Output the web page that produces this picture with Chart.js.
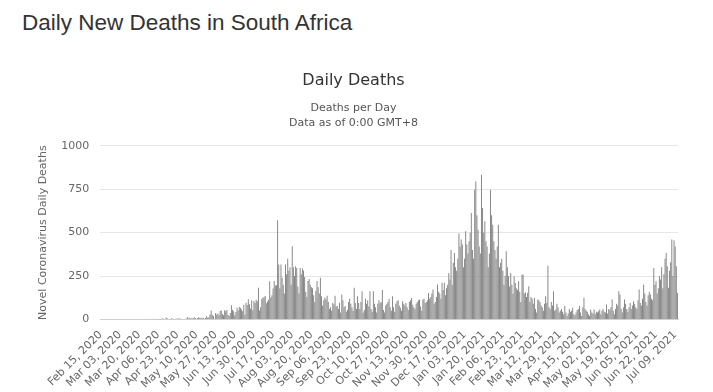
<!DOCTYPE html>
<html>
<head>
<meta charset="utf-8">
<script src="https://cdn.jsdelivr.net/npm/chart.js@4"></script>
<style>
  html, body { margin: 0; padding: 0; background: #fff; }
  body { width: 713px; height: 392px; position: relative; overflow: hidden; }
  h1 {
    position: absolute; left: 22px; top: 10px; margin: 0;
    font: normal 22.5px "Liberation Sans", Arial, sans-serif; color: #333;
  }
  #wrap { position: absolute; left: 0; top: 0; width: 713px; height: 392px; }
</style>
</head>
<body>
<h1>Daily New Deaths in South Africa</h1>
<div id="wrap"><canvas id="deathsChart"></canvas></div>
<script>
// first day of the series, one bar per day after it
const startDate = new Date(2020, 1, 15);

// daily deaths, one array per month
const feb2020 = [0,0,0,0,0,0,0,0,0,0,0,0,0,0,0];
const mar2020 = [0,0,0,0,0,0,0,0,0,0,0,0,0,0,0,0,0,0,0,0,0,0,0,0,0,0,1,0,2,0,2];
const apr2020 = [0,4,2,2,2,0,2,2,0,7,1,0,11,7,0,2,0,8,2,3,4,0,7,4,5,4,3,0,2,0];
const may2020 = [5,13,6,10,6,8,5,13,8,0,8,13,8,10,6,12,0,8,18,10,13,29,52,27,20,0,37,27,35,25,49];
const jun2020 = [52,31,25,53,48,55,27,20,38,82,56,47,25,43,67,52,72,68,58,48,85,27,96,83,117,88,63,111,53,106];
const jul2020 = [95,114,105,182,51,70,118,127,128,135,93,103,114,220,126,140,178,222,195,197,572,316,180,316,240,200,150,316,260,350,280];
const aug2020 = [300,200,421,300,250,306,297,190,150,297,260,293,282,245,160,130,222,233,200,185,180,140,100,165,222,185,150,240,134,80,110];
const sep2020 = [127,115,137,100,60,70,50,96,88,137,75,77,60,96,40,144,110,70,77,45,55,100,120,90,70,50,182,95,60,134];
const oct2020 = [95,60,100,163,40,55,120,90,110,75,163,60,45,163,90,70,40,90,110,95,100,170,55,40,80,90,100,120,70,50,134];
const nov2020 = [70,45,90,105,110,80,67,50,105,90,80,95,70,55,100,110,124,85,70,60,90,100,110,115,75,50,115,120,95,100];
const dec2020 = [110,153,120,130,150,172,90,100,130,201,160,150,120,211,170,211,140,180,200,268,230,400,200,326,383,300,280,350,495,420,460];
const jan2021 = [431,300,350,508,431,380,450,500,613,400,350,747,795,600,517,420,380,833,642,500,566,450,420,300,380,747,600,546,450,400,350];
const feb2021 = [420,546,300,326,350,280,200,250,393,300,250,190,268,200,150,249,210,180,170,220,160,100,259,258,150,155,130,153];
const mar2021 = [192,100,130,120,90,125,60,40,115,110,100,80,70,50,90,134,95,310,70,60,100,80,163,50,57,90,70,40,50,60,45];
const apr2021 = [30,77,40,20,35,60,45,50,67,30,25,40,55,60,77,40,20,70,125,60,50,45,30,20,57,40,35,57,30,45];
const may2021 = [40,48,57,30,50,60,45,40,86,35,60,55,70,115,50,30,60,90,80,163,144,60,40,70,115,90,60,45,70,95,60];
const jun2021 = [80,105,90,70,60,110,172,95,80,120,201,150,100,80,140,160,144,120,110,297,200,220,150,180,250,230,300,180,260,350];
const jul2021 = [383,306,182,280,330,460,250,456,420,306,153];

// x axis tick labels, one every 17 days
const tickLabels = [
  "Feb 15, 2020","Mar 03, 2020","Mar 20, 2020","Apr 06, 2020","Apr 23, 2020","May 10, 2020",
  "May 27, 2020","Jun 13, 2020","Jun 30, 2020","Jul 17, 2020","Aug 03, 2020","Aug 20, 2020",
  "Sep 06, 2020","Sep 23, 2020","Oct 10, 2020","Oct 27, 2020","Nov 13, 2020","Nov 30, 2020",
  "Dec 17, 2020","Jan 03, 2021","Jan 20, 2021","Feb 06, 2021","Feb 23, 2021","Mar 12, 2021",
  "Mar 29, 2021","Apr 15, 2021","May 02, 2021","May 19, 2021","Jun 05, 2021","Jun 22, 2021",
  "Jul 09, 2021"
];
const tickStep = 17;

const dailyDeaths = [].concat(feb2020, mar2020, apr2020, may2020, jun2020, jul2020, aug2020,
  sep2020, oct2020, nov2020, dec2020, jan2021, feb2021, mar2021, apr2021, may2021, jun2021, jul2021);

const months = ["Jan","Feb","Mar","Apr","May","Jun","Jul","Aug","Sep","Oct","Nov","Dec"];
const days = dailyDeaths.map((v, i) => {
  const d = new Date(startDate.getFullYear(), startDate.getMonth(), startDate.getDate() + i);
  return months[d.getMonth()] + " " + String(d.getDate()).padStart(2, "0") + ", " + d.getFullYear();
});

const font = "'DejaVu Sans', sans-serif";

new Chart(document.getElementById("deathsChart"), {
  type: "bar",
  data: {
    labels: days,
    datasets: [{
      label: "Daily Deaths",
      data: dailyDeaths,
      backgroundColor: "#838383",
      barPercentage: 0.85,
      categoryPercentage: 1
    }]
  },
  options: {
    responsive: true,
    maintainAspectRatio: false,
    animation: false,
    layout: { padding: { top: 0, left: 29, right: 35, bottom: 0 } },
    plugins: {
      legend: { display: false },
      tooltip: { enabled: false },
      title: {
        display: true,
        text: "Daily Deaths",
        color: "#333",
        font: { family: font, size: 16, weight: "normal" },
        padding: { top: 71, bottom: 9 }
      },
      subtitle: {
        display: true,
        text: ["Deaths per Day", "Data as of 0:00 GMT+8"],
        color: "#555",
        font: { family: font, size: 11, lineHeight: 1.3 },
        padding: { top: 2, bottom: 16 }
      }
    },
    scales: {
      x: {
        grid: { display: false },
        border: { color: "#d0d0d0" },
        ticks: {
          autoSkip: false,
          maxRotation: 45,
          minRotation: 45,
          padding: 1,
          color: "#666",
          font: { family: font, size: 11 },
          callback: (val, i) => (i % tickStep === 0 ? tickLabels[i / tickStep] : "")
        }
      },
      y: {
        min: 0,
        max: 1000,
        ticks: {
          stepSize: 250,
          padding: 11,
          color: "#666",
          font: { family: font, size: 11 },
          callback: (val) => String(val)
        },
        grid: { color: "#e6e6e6", drawTicks: false },
        border: { display: false },
        title: {
          display: true,
          text: "Novel Coronavirus Daily Deaths",
          color: "#666",
          font: { family: font, size: 11 },
          padding: { top: 8, bottom: 0 }
        }
      }
    }
  }
});
</script>
</body>
</html>
